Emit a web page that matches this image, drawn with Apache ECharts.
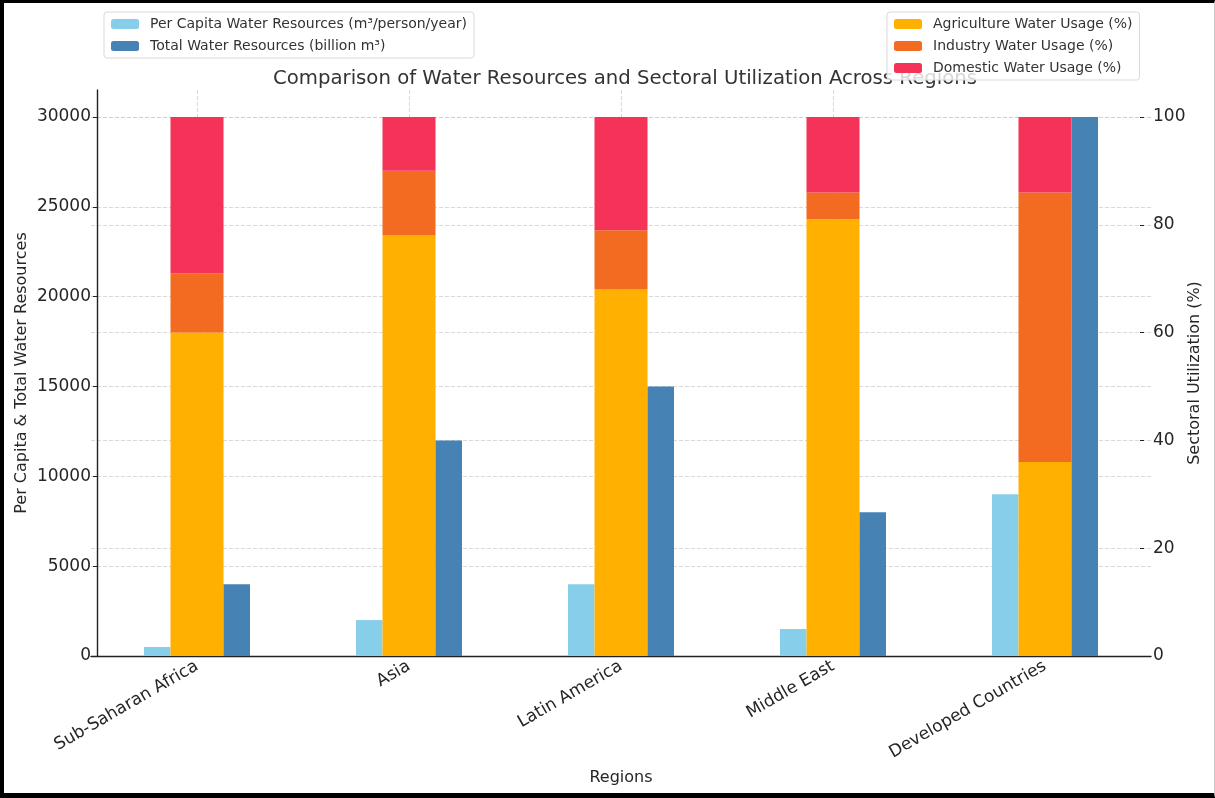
<!DOCTYPE html>
<html>
<head>
<meta charset="utf-8">
<title>Water Resources and Sectoral Utilization</title>
<script src="https://cdn.jsdelivr.net/npm/echarts@6/dist/echarts.min.js"></script>
<style>
  html, body { margin: 0; padding: 0; background: #fff; }
  #chart { position: absolute; left: 0; top: 0; width: 1215px; height: 798px; }
  /* picture frame round the figure */
  #frame {
    position: absolute; left: 0; top: 0; width: 1215px; height: 798px;
    box-sizing: border-box; pointer-events: none;
    border-left: 4px solid #000; border-top: 3px solid #000;
    border-bottom: 5px solid #000; border-right: 1px solid #ccc;
  }
</style>
</head>
<body>
<div id="chart"></div>
<div id="frame"></div>
<script>
// regions and values
const regions = ['Sub-Saharan Africa', 'Asia', 'Latin America', 'Middle East', 'Developed Countries'];
const perCapita = [500, 2000, 4000, 1500, 9000];       // m³/person/year
const totalWater = [4000, 12000, 15000, 8000, 30000];  // billion m³
const agriculture = [60, 78, 68, 81, 36];              // %
const industry = [11, 12, 11, 5, 50];                  // %
const domestic = [29, 10, 21, 14, 14];                 // %

const font = 'DejaVu Sans';
const textColor = '#262626';
const gridLine = { show: true, showMaxLine: false, lineStyle: { color: '#cfcfcf', type: [4, 2], width: 0.8 } };

const chart = echarts.init(document.getElementById('chart'), null, { renderer: 'canvas' });

chart.setOption({
  animation: false,
  textStyle: { fontFamily: font },
  title: {
    text: 'Comparison of Water Resources and Sectoral Utilization Across Regions',
    left: 620,
    top: 64,
    textAlign: 'center',
    textStyle: { fontFamily: font, fontSize: 19.7, fontWeight: 'normal', color: '#333' },
    z: 1
  },
  legend: [
    {
      data: ['Per Capita Water Resources (m³/person/year)', 'Total Water Resources (billion m³)'],
      orient: 'vertical',
      left: 104,
      top: 12,
      padding: [5, 7],
      itemWidth: 28,
      itemHeight: 10,
      itemGap: 8,
      backgroundColor: 'rgba(255,255,255,0.8)',
      borderColor: '#d9d9d9',
      borderWidth: 1,
      borderRadius: 3,
      textStyle: { fontFamily: font, fontSize: 14, color: '#333', lineHeight: 14, padding: [0, 0, 0, 6] },
      z: 10
    },
    {
      data: ['Agriculture Water Usage (%)', 'Industry Water Usage (%)', 'Domestic Water Usage (%)'],
      orient: 'vertical',
      left: 887,
      top: 12,
      padding: [5, 7],
      itemWidth: 28,
      itemHeight: 10,
      itemGap: 8,
      backgroundColor: 'rgba(255,255,255,0.8)',
      borderColor: '#d9d9d9',
      borderWidth: 1,
      borderRadius: 3,
      textStyle: { fontFamily: font, fontSize: 14, color: '#333', lineHeight: 14, padding: [0, 0, 0, 6] },
      z: 10
    }
  ],
  grid: { left: 91, right: 64, top: 90, bottom: 142, outerBoundsMode: 'none' },
  xAxis: {
    type: 'category',
    data: regions,
    name: 'Regions',
    nameLocation: 'middle',
    nameGap: 114,
    nameTextStyle: { fontFamily: font, fontSize: 16, color: textColor },
    axisLine: { lineStyle: { color: '#222', width: 1.4 } },
    axisTick: { alignWithLabel: true, length: 4, lineStyle: { color: '#222' } },
    axisLabel: { rotate: 30, fontSize: 17, color: textColor, margin: 9 },
    splitLine: Object.assign({ alignWithLabel: true }, gridLine)
  },
  yAxis: [
    {
      type: 'value',
      min: 0,
      max: 31500,
      interval: 5000,
      offset: -6,
      name: 'Per Capita & Total Water Resources',
      nameLocation: 'middle',
      nameGap: 67,
      nameMoveOverlap: false,
      nameTextStyle: { fontFamily: font, fontSize: 16, color: textColor },
      axisLine: { show: true, lineStyle: { color: '#222', width: 1.4 } },
      axisTick: { show: true, length: 4, lineStyle: { color: '#222' } },
      axisLabel: { fontSize: 17, color: textColor, margin: 6, showMaxLabel: false, formatter: v => String(v) },
      splitLine: gridLine
    },
    {
      type: 'value',
      min: 0,
      max: 105,
      interval: 20,
      offset: -11,
      name: 'Sectoral Utilization (%)',
      nameLocation: 'middle',
      nameGap: 47,
      nameMoveOverlap: false,
      nameTextStyle: { fontFamily: font, fontSize: 16, color: textColor },
      axisLine: { show: false },
      axisTick: { show: true, length: 4, lineStyle: { color: '#222' } },
      axisLabel: { fontSize: 17, color: textColor, margin: 13, showMaxLabel: false },
      splitLine: gridLine
    }
  ],
  series: [
    {
      name: 'Per Capita Water Resources (m³/person/year)',
      type: 'bar',
      yAxisIndex: 0,
      data: perCapita,
      barWidth: 26.5,
      barGap: '0%',
      itemStyle: { color: '#87CEEB' }
    },
    {
      name: 'Agriculture Water Usage (%)',
      type: 'bar',
      yAxisIndex: 1,
      stack: 'sector',
      data: agriculture,
      barWidth: 53,
      barGap: '0%',
      itemStyle: { color: '#FFB000' }
    },
    {
      name: 'Industry Water Usage (%)',
      type: 'bar',
      yAxisIndex: 1,
      stack: 'sector',
      data: industry,
      barWidth: 53,
      barGap: '0%',
      itemStyle: { color: '#F26B21' }
    },
    {
      name: 'Domestic Water Usage (%)',
      type: 'bar',
      yAxisIndex: 1,
      stack: 'sector',
      data: domestic,
      barWidth: 53,
      barGap: '0%',
      itemStyle: { color: '#F53257' }
    },
    {
      name: 'Total Water Resources (billion m³)',
      type: 'bar',
      yAxisIndex: 0,
      data: totalWater,
      barWidth: 26.5,
      barGap: '0%',
      itemStyle: { color: '#4682B4' }
    }
  ]
});
</script>
</body>
</html>
